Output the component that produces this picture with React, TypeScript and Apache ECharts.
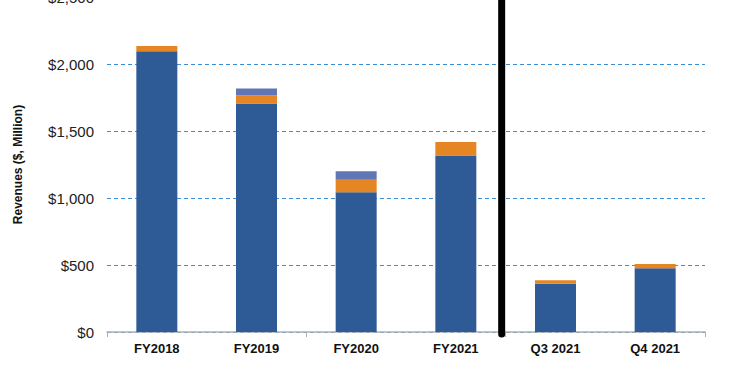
import React, { useEffect, useRef } from "react";
import * as echarts from "echarts";

const categories = ["FY2018", "FY2019", "FY2020", "FY2021", "Q3 2021", "Q4 2021"];
const seriesDark = [2095, 1705, 1042, 1318, 360, 475];
const seriesOrange = [40, 60, 94, 100, 26, 32];
const seriesLight = [0, 53, 63, 0, 0, 0];
const yTicks = [0, 500, 1000, 1500, 2000, 2500];

export default function App() {
  const ref = useRef<HTMLDivElement>(null);
  useEffect(() => {
    const chart = echarts.init(ref.current!, null, { renderer: "svg" });
    const barCommon = { type: "bar", stack: "total", barWidth: 41 };
    chart.setOption({
      animation: false,
      grid: { left: 107, right: 45, top: -3, bottom: 43, outerBoundsMode: "none", containLabel: false },
      xAxis: {
        type: "category",
        data: categories,
        axisLine: { lineStyle: { color: "#b0b0b0", width: 1.5 } },
        axisTick: { show: true, interval: 1, length: 5, lineStyle: { color: "#b0b0b0" } },
        axisLabel: {
          color: "#111",
          fontWeight: "bold",
          fontSize: 13,
          fontFamily: "Liberation Sans, Arial",
          margin: 10,
        },
      },
      yAxis: {
        type: "value",
        min: yTicks[0],
        max: yTicks[yTicks.length - 1],
        interval: 500,
        name: "Revenues ($, Million)",
        nameLocation: "middle",
        nameGap: 83,
        nameTextStyle: {
          color: "#111",
          fontWeight: "bold",
          fontSize: 12,
          fontFamily: "Liberation Sans, Arial",
        },
        axisLine: { show: false },
        axisTick: { show: false },
        axisLabel: {
          color: "#222",
          fontSize: 15,
          fontFamily: "Liberation Sans, Arial",
          margin: 13,
          formatter: (v: number) => "$" + v.toLocaleString("en-US"),
        },
        splitLine: {
          lineStyle: { color: "#3a8fd6", type: [4, 3], width: 1 },
        },
      },
      series: [
        { ...barCommon, name: "A", data: seriesDark, itemStyle: { color: "#2e5a96" } },
        { ...barCommon, name: "B", data: seriesOrange, itemStyle: { color: "#e68523" } },
        { ...barCommon, name: "C", data: seriesLight, itemStyle: { color: "#6176b5" } },
      ],
    });
    const x1 = chart.convertToPixel({ xAxisIndex: 0 }, categories[3]) as number;
    const x2 = chart.convertToPixel({ xAxisIndex: 0 }, categories[4]) as number;
    const y0 = chart.convertToPixel({ yAxisIndex: 0 }, 0) as number;
    const xm = (x1 + x2) / 2 - 4;
    chart.setOption({
      graphic: [
        {
          type: "line",
          shape: { x1: xm, y1: -5, x2: xm, y2: y0 + 2 },
          style: { stroke: "#000", lineWidth: 7, lineCap: "round" },
          z: 100,
        },
      ],
    });
    return () => chart.dispose();
  }, []);
  return <div ref={ref} style={{ width: 750, height: 375, position: "absolute", left: 0, top: 0 }} />;
}
